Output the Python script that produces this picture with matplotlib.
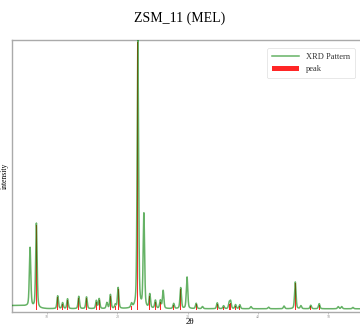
import numpy as np
import matplotlib
matplotlib.use('Agg')
import matplotlib.pyplot as plt

# peak list (2theta, relative intensity)
peak_pos = [7.57, 8.47, 11.5, 12.2, 12.9, 14.5, 15.6, 17.0, 17.4, 18.5, 19.0, 19.7, 20.1,
            22.0, 22.9, 23.76, 24.6, 25.4, 26.1, 26.5, 28.0, 29.0, 29.9, 31.2,
            34.2, 35.1, 35.9, 36.1, 36.8, 37.4, 43.7, 45.3, 46.1, 47.5, 48.7]
peak_int = [22, 31.5, 4.8, 2.2, 3.7, 4.6, 4.4, 3.0, 3.7, 2.2, 5.2, 1.5, 7.8,
            1.5, 100, 35, 5.2, 3.0, 3.0, 6.7, 1.9, 7.8, 11.8, 2.0,
            2.2, 1.1, 2.2, 2.7, 1.5, 1.5, 1.0, 10, 1.1, 1.3, 1.9]

# small humps in the pattern that carry no peak bar
bump_pos = [32.1, 39.0, 41.5, 51.4, 51.9, 53.5]
bump_int = [0.8, 0.8, 0.6, 0.8, 0.8, 0.5]

# background read at a few angles
bg_x = [5, 6, 7, 8, 9, 10, 15, 20, 30, 40, 55]
bg_y = [1.6, 1.6, 1.4, 0.9, 0.5, 0.4, 0.4, 0.4, 0.4, 0.4, 0.4]

two_theta = np.linspace(5, 55, 5000)

def profile(x, pos, h, w=0.12):
    return h / (1 + ((x - pos) / w) ** 2) * 0.4 + h * np.exp(-((x - pos) / w) ** 2 * 0.69) * 0.6

pattern = np.interp(two_theta, bg_x, bg_y)
for p, h in zip(peak_pos + bump_pos, peak_int + bump_int):
    pattern += profile(two_theta, p, h)

plt.rcParams['font.family'] = ['Liberation Serif', 'DejaVu Serif']

fig = plt.figure(figsize=(3.6, 3.25), dpi=100)
ax = fig.add_axes([12 / 360, 13 / 325, 355 / 360, 272 / 325])

ax.bar(peak_pos, peak_int, width=0.1, color='red', alpha=0.85, label='peak', zorder=2)
ax.plot(two_theta, pattern, color='green', lw=1.1, alpha=0.6, label='XRD Pattern', zorder=3)

ax.set_xlim(5, 55.5)
ax.set_ylim(-0.8, max(pattern) * 1.0)
ax.set_xticks([10, 20, 30, 40, 50])
ax.tick_params(axis='x', labelsize=3, length=1.5, width=0.4, pad=1, colors='#999999')
ax.set_yticks([])
for s in ax.spines.values():
    s.set_color('#aaaaaa')
    s.set_linewidth(1.0)

ax.set_xlabel('2θ', fontsize=6.5, labelpad=-1)
ax.set_ylabel('intensity', fontsize=5.5, labelpad=2)
fig.suptitle('ZSM_11 (MEL)', fontsize=10, y=0.965)

leg = ax.legend(loc='upper right',
                bbox_to_anchor=(359 / 360, 1 - 44 / 325),
                bbox_transform=fig.transFigure, fontsize=6, frameon=True,
                handlelength=3.2, borderpad=0.6, labelspacing=0.5)
leg.get_frame().set_linewidth(0.4)
for t in leg.get_texts():
    t.set_color('#333333')

fig.savefig('out.png', dpi=100)
